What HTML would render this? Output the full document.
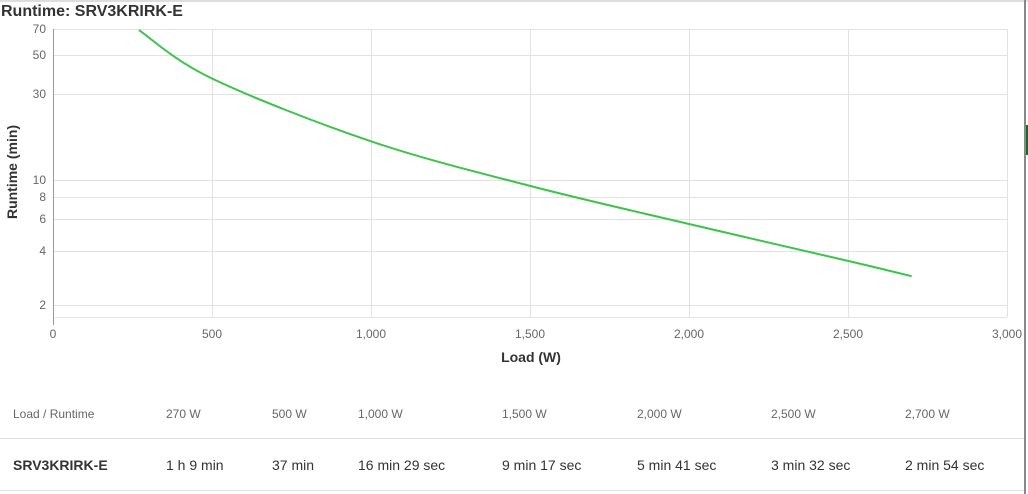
<!DOCTYPE html>
<html><head><meta charset="utf-8"><style>
body{margin:0;width:1028px;height:494px;background:#fff;overflow:hidden;font-family:"Liberation Sans",Arial,sans-serif;position:relative}
.t{position:absolute;white-space:nowrap}
.h{font-size:12px;color:#666;top:407px}
.r{font-size:14px;color:#333;top:457px}
</style></head><body>
<div style="position:absolute;left:0;top:0;width:1028px;height:2px;background:#ddd"></div>
<div style="position:absolute;left:1024px;top:0;width:2px;height:494px;background:#888"></div>
<div style="position:absolute;left:1026px;top:125px;width:2px;height:30px;background:#1a6a2a"></div>
<div class="t" style="left:1px;top:3px;font-size:16px;font-weight:bold;color:#333">Runtime: SRV3KRIRK-E</div>
<svg width="1028" height="494" style="position:absolute;left:0;top:0" font-family="Liberation Sans,Arial,sans-serif">
<g stroke="#e2e2e2" stroke-width="1">
<line x1="53" y1="29.5" x2="1007" y2="29.5"/><line x1="53" y1="55.5" x2="1007" y2="55.5"/><line x1="53" y1="94.5" x2="1007" y2="94.5"/>
<line x1="53" y1="180.5" x2="1007" y2="180.5"/><line x1="53" y1="197.5" x2="1007" y2="197.5"/><line x1="53" y1="219.5" x2="1007" y2="219.5"/>
<line x1="53" y1="251.5" x2="1007" y2="251.5"/><line x1="53" y1="305.5" x2="1007" y2="305.5"/><line x1="55" y1="317.5" x2="1007" y2="317.5"/>
<line x1="212.5" y1="29" x2="212.5" y2="317"/><line x1="371.5" y1="29" x2="371.5" y2="317"/><line x1="530.5" y1="29" x2="530.5" y2="317"/>
<line x1="689.5" y1="29" x2="689.5" y2="317"/><line x1="848.5" y1="29" x2="848.5" y2="317"/><line x1="1007.5" y1="29" x2="1007.5" y2="317"/>
</g>
<line x1="53.5" y1="29" x2="53.5" y2="325" stroke="#999"/>
<g font-size="12" fill="#666" text-anchor="end">
<text x="46" y="33">70</text><text x="46" y="59">50</text><text x="46" y="98">30</text><text x="46" y="184">10</text>
<text x="46" y="201">8</text><text x="46" y="223">6</text><text x="46" y="255">4</text><text x="46" y="309">2</text>
</g>
<g font-size="12" fill="#666" text-anchor="middle">
<text x="53" y="338">0</text><text x="212" y="338">500</text><text x="371" y="338">1,000</text><text x="530" y="338">1,500</text>
<text x="689" y="338">2,000</text><text x="848" y="338">2,500</text><text x="1007" y="338">3,000</text>
</g>
<text x="531" y="362" font-size="14" font-weight="bold" fill="#333" text-anchor="middle">Load (W)</text>
<text transform="translate(17,172) rotate(-90)" font-size="14" font-weight="bold" fill="#333" text-anchor="middle">Runtime (min)</text>
<path d="M138.9,30.1 C151.1,38.2 173.3,60 212,78.5 C250.7,97 318,123.4 371,141.3 C424,159.2 477,172.1 530,185.9 C583,199.7 636,211.5 689,224 C742,236.5 810.9,252.2 848,260.9 C885.1,269.6 901,273.6 911.6,276.2" fill="none" stroke="#3cc34a" stroke-width="2"/>
<line x1="0" y1="438.5" x2="1024" y2="438.5" stroke="#e0e0e0"/>
<line x1="0" y1="490.5" x2="1024" y2="490.5" stroke="#e0e0e0"/>
</svg>
<div class="t h" style="left:13px">Load / Runtime</div>
<div class="t h" style="left:166px">270 W</div>
<div class="t h" style="left:272px">500 W</div>
<div class="t h" style="left:358px">1,000 W</div>
<div class="t h" style="left:502px">1,500 W</div>
<div class="t h" style="left:637px">2,000 W</div>
<div class="t h" style="left:771px">2,500 W</div>
<div class="t h" style="left:905px">2,700 W</div>
<div class="t r" style="left:13px;font-weight:bold">SRV3KRIRK-E</div>
<div class="t r" style="left:166px">1 h 9 min</div>
<div class="t r" style="left:272px">37 min</div>
<div class="t r" style="left:358px">16 min 29 sec</div>
<div class="t r" style="left:502px">9 min 17 sec</div>
<div class="t r" style="left:637px">5 min 41 sec</div>
<div class="t r" style="left:771px">3 min 32 sec</div>
<div class="t r" style="left:905px">2 min 54 sec</div>
</body></html>
